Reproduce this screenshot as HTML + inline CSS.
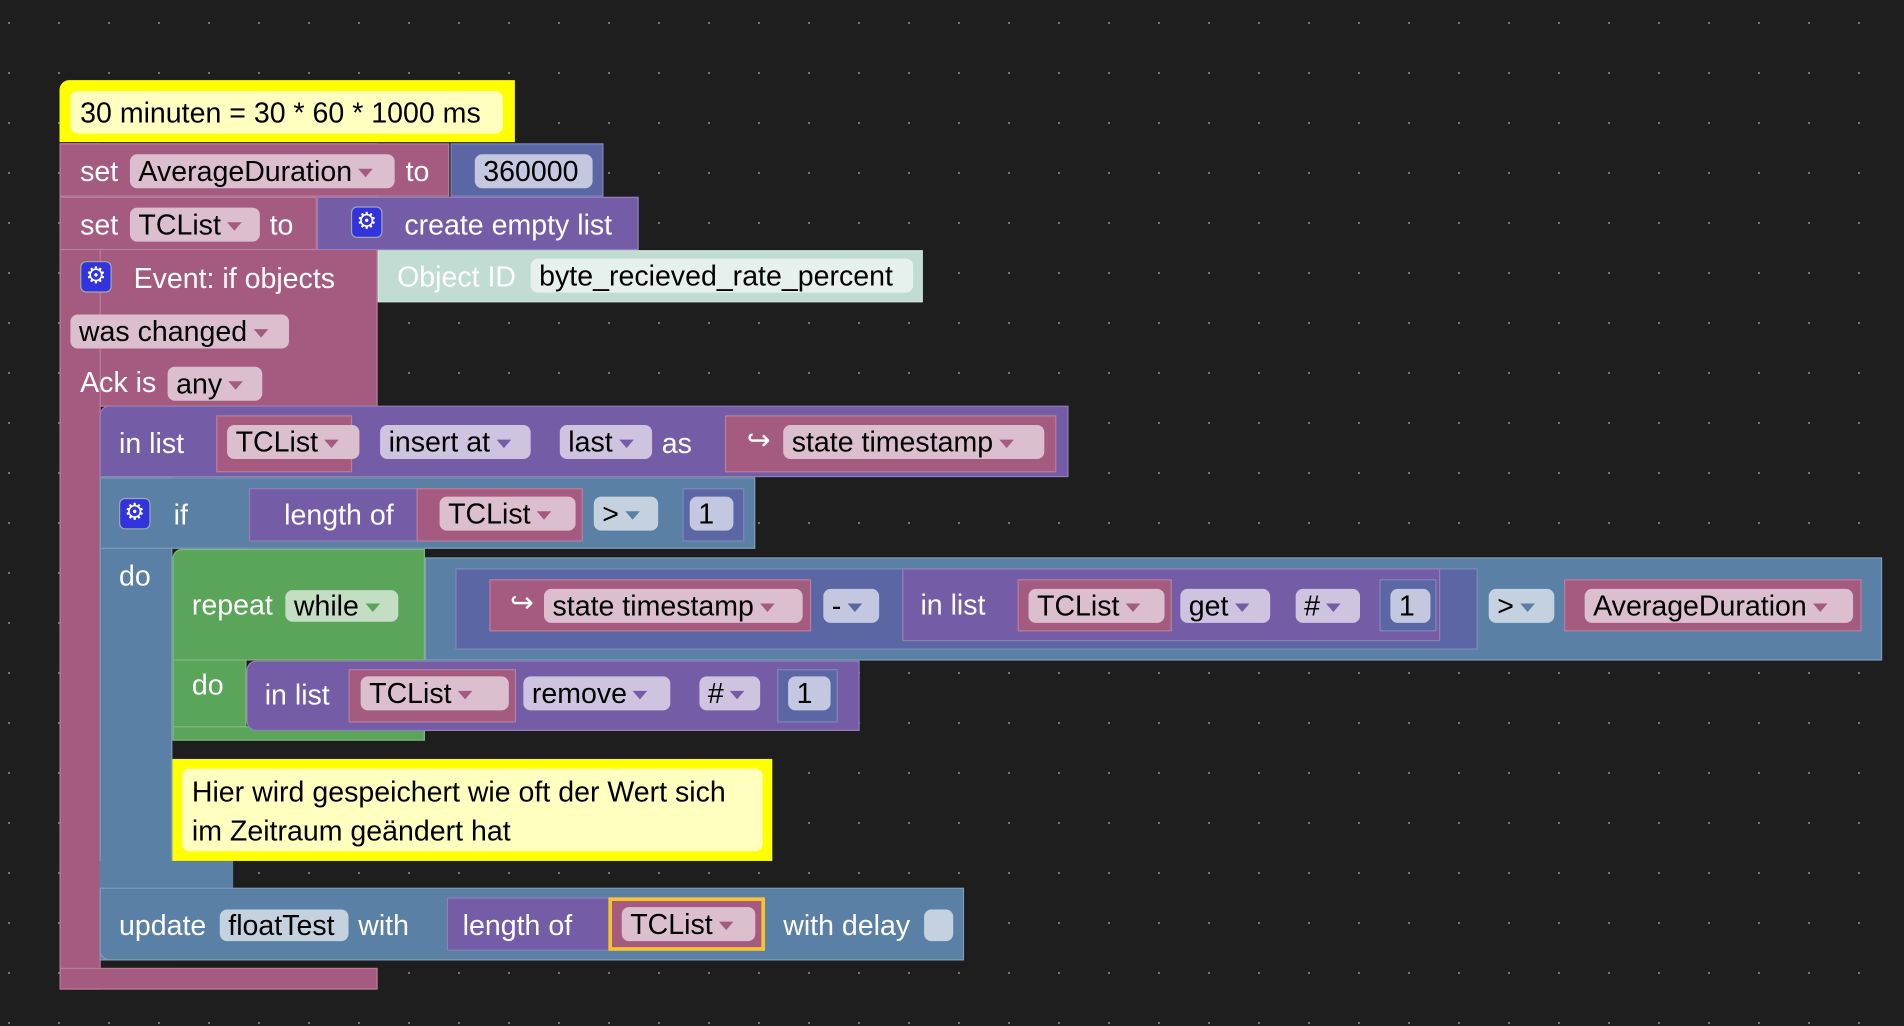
<!DOCTYPE html>
<html><head><meta charset="utf-8"><style>
html,body{margin:0;padding:0;background:#1e1e1e;overflow:hidden}
body{width:1904px;height:1026px;
background-image:radial-gradient(circle,#777 1px,transparent 1.3px);background-size:50px 50px;background-position:-16px -2px}
#s{position:absolute;left:0;top:0;width:1568px;height:845px;transform:scale(1.2143);transform-origin:0 0;font-family:"Liberation Sans",sans-serif;font-size:23.5px}
.b{position:absolute;box-sizing:border-box;border:1px solid rgba(255,255,255,.22)}
.p{background:#a55b80}.u{background:#745ca6}.s{background:#5b80a5}.i{background:#5b67a5}.g{background:#5ba55b}
.f{position:absolute;box-sizing:border-box;border-radius:6px;color:#000;line-height:28px;padding-left:7px;white-space:nowrap;overflow:hidden}
.fp{background:#dcbfcf}.fu{background:#cfc4e0}.fs{background:#c3d2de}.fi{background:#c3c7e0}.fg{background:#c3dec3}
.t{position:absolute;color:#fff;line-height:28px;white-space:nowrap}
.a{display:inline-block;width:0;height:0;border-left:6px solid transparent;border-right:6px solid transparent;border-top:7px solid #a55b80;margin-left:5px;vertical-align:3px}
.au{border-top-color:#745ca6}.as{border-top-color:#5b80a5}.ag{border-top-color:#5ba55b}.ai{border-top-color:#5b67a5}
.gear{position:absolute;width:26px;height:26px;border-radius:5px;background:#3333dd;border:1px solid #9aa;box-sizing:border-box;color:#fff;text-align:center;line-height:24px;font-size:19px}
</style></head><body><div id="s">
<!-- main event block -->
<div class="b p" style="left:49px;top:118px;width:262px;height:217px"></div>
<div class="b p" style="left:49px;top:118px;width:34px;height:697px;border-radius:0 0 0 10px"></div>
<div class="b p" style="left:49px;top:118px;width:321px;height:44px"></div>
<div class="b i" style="left:371px;top:118px;width:126px;height:44px"></div>
<div class="f fp" style="left:107px;top:127px;width:218px">AverageDuration<span class="a"></span></div>
<div class="t" style="left:334px;top:127px">to</div>
<div class="f fi" style="left:391px;top:127px;width:97px">360000</div>
<div class="b p" style="left:49px;top:162px;width:212px;height:44px"></div>
<div class="b u" style="left:261px;top:162px;width:265px;height:44px"></div>
<div class="t" style="left:66px;top:127px">set</div>
<div class="t" style="left:66px;top:171px">set</div>
<div class="f fp" style="left:107px;top:171px;width:107px">TCList<span class="a"></span></div>
<div class="t" style="left:222px;top:171px">to</div>
<div class="gear" style="left:289px;top:170px">⚙</div>
<div class="t" style="left:333px;top:171px">create empty list</div>
<div class="gear" style="left:66px;top:215px">⚙</div>
<div class="t" style="left:110px;top:215px">Event: if objects</div>
<div class="b" style="left:311px;top:206px;width:449px;height:43px;background:#c0dcd3"></div>
<div class="t" style="left:327px;top:214px">Object ID</div>
<div class="f" style="left:437px;top:213px;width:315px;background:#e6f0ec">byte_recieved_rate_percent</div>
<div class="f fp" style="left:58px;top:259px;width:180px">was changed<span class="a"></span></div>
<div class="t" style="left:66px;top:301px">Ack is</div>
<div class="f fp" style="left:138px;top:302px;width:78px">any<span class="a"></span></div>
<!-- bottom arm -->
<div class="b p" style="left:49px;top:797px;width:262px;height:18px"></div>
<!-- comment 1 -->
<div style="position:absolute;left:49px;top:66px;width:375px;height:51px;background:#ff0;border-radius:8px 0 0 0"></div>
<div style="position:absolute;left:58px;top:75px;width:356px;height:35px;background:#ffffc0;border-radius:6px"></div>
<div class="t" style="left:66px;top:79px;color:#000">30 minuten = 30 * 60 * 1000 ms</div>
<!-- in list insert -->
<div class="b u" style="left:82px;top:334px;width:798px;height:59px;border-radius:8px 0 0 0"></div>
<div class="t" style="left:98px;top:351px">in list</div>
<div class="b p" style="left:178px;top:342px;width:112px;height:47px"></div>
<div class="f fp" style="left:187px;top:350px;width:109px">TCList<span class="a"></span></div>
<div class="f fu" style="left:313px;top:350px;width:124px">insert at<span class="a au"></span></div>
<div class="f fu" style="left:461px;top:350px;width:76px">last<span class="a au"></span></div>
<div class="t" style="left:545px;top:351px">as</div>
<div class="b p" style="left:597px;top:342px;width:273px;height:47px"></div>
<div class="t" style="left:615px;top:348px">↪</div>
<div class="f fp" style="left:645px;top:350px;width:215px">state timestamp<span class="a"></span></div>
<!-- if block -->
<div class="b s" style="left:82px;top:393px;width:60px;height:398px"></div>
<div class="b s" style="left:82px;top:393px;width:540px;height:59px"></div>
<div class="gear" style="left:98px;top:410px">⚙</div>
<div class="t" style="left:143px;top:410px">if</div>
<div class="b u" style="left:205px;top:402px;width:140px;height:44px"></div>
<div class="t" style="left:234px;top:410px">length of</div>
<div class="b p" style="left:343px;top:402px;width:137px;height:44px"></div>
<div class="f fp" style="left:362px;top:409px;width:112px">TCList<span class="a"></span></div>
<div class="f fs" style="left:489px;top:409px;width:53px">&gt;<span class="a as"></span></div>
<div class="b i" style="left:562px;top:402px;width:51px;height:44px"></div>
<div class="f fi" style="left:568px;top:409px;width:36px">1</div>
<div class="t" style="left:98px;top:460px">do</div>
<div class="b s" style="left:82px;top:709px;width:110px;height:28px;border:none"></div>
<!-- repeat while -->
<div class="b g" style="left:142px;top:452px;width:61px;height:156px;border-radius:8px 0 0 0"></div>
<div class="b g" style="left:142px;top:452px;width:208px;height:92px;border-radius:8px 0 0 0"></div>
<div class="b g" style="left:142px;top:598px;width:208px;height:12px"></div>
<div class="t" style="left:158px;top:484px">repeat</div>
<div class="f fg" style="left:235px;top:486px;width:93px;line-height:26px">while<span class="a ag"></span></div>
<div class="t" style="left:158px;top:550px">do</div>
<div class="b s" style="left:350px;top:459px;width:1200px;height:85px"></div>
<div class="b i" style="left:375px;top:468px;width:842px;height:67px"></div>
<div class="b p" style="left:403px;top:477px;width:265px;height:43px"></div>
<div class="t" style="left:420px;top:482px">↪</div>
<div class="f fp" style="left:448px;top:485px;width:213px">state timestamp<span class="a"></span></div>
<div class="f fi" style="left:678px;top:485px;width:46px">-<span class="a ai"></span></div>
<div class="b u" style="left:743px;top:468px;width:443px;height:60px"></div>
<div class="t" style="left:758px;top:484px">in list</div>
<div class="b p" style="left:838px;top:477px;width:127px;height:43px"></div>
<div class="f fp" style="left:847px;top:485px;width:112px">TCList<span class="a"></span></div>
<div class="f fu" style="left:972px;top:485px;width:74px">get<span class="a au"></span></div>
<div class="f fu" style="left:1067px;top:485px;width:53px">#<span class="a au"></span></div>
<div class="b i" style="left:1136px;top:477px;width:47px;height:43px"></div>
<div class="f fi" style="left:1145px;top:485px;width:33px">1</div>
<div class="f fs" style="left:1226px;top:485px;width:54px">&gt;<span class="a as"></span></div>
<div class="b p" style="left:1288px;top:477px;width:245px;height:43px"></div>
<div class="f fp" style="left:1305px;top:485px;width:221px">AverageDuration<span class="a"></span></div>
<!-- remove -->
<div class="b u" style="left:203px;top:544px;width:505px;height:58px;border-radius:8px 0 0 8px"></div>
<div class="t" style="left:218px;top:558px">in list</div>
<div class="b p" style="left:287px;top:551px;width:138px;height:44px"></div>
<div class="f fp" style="left:297px;top:557px;width:122px">TCList<span class="a"></span></div>
<div class="f fu" style="left:431px;top:557px;width:121px">remove<span class="a au"></span></div>
<div class="f fu" style="left:576px;top:557px;width:50px">#<span class="a au"></span></div>
<div class="b i" style="left:640px;top:551px;width:50px;height:44px"></div>
<div class="f fi" style="left:649px;top:557px;width:35px">1</div>
<!-- comment 2 -->
<div style="position:absolute;left:142px;top:625px;width:494px;height:84px;background:#ff0"></div>
<div style="position:absolute;left:150px;top:633px;width:478px;height:68px;background:#ffffc0;border-radius:6px"></div>
<div class="t" style="left:158px;top:636px;color:#000;line-height:32px">Hier wird gespeichert wie oft der Wert sich<br>im Zeitraum geändert hat</div>
<!-- update -->
<div class="b s" style="left:82px;top:731px;width:712px;height:60px;border-radius:0 0 0 8px"></div>
<div class="t" style="left:98px;top:748px">update</div>
<div class="f fs" style="left:181px;top:749px;width:106px;line-height:26px">floatTest</div>
<div class="t" style="left:295px;top:748px">with</div>
<div class="b u" style="left:368px;top:739px;width:262px;height:44px"></div>
<div class="t" style="left:381px;top:748px">length of</div>
<div class="b p" style="left:501px;top:739px;width:129px;height:44px;border:3px solid #f7c52b"></div>
<div class="f fp" style="left:512px;top:747px;width:110px">TCList<span class="a"></span></div>
<div class="t" style="left:645px;top:748px">with delay</div>
<div class="f fs" style="left:761px;top:749px;width:24px;height:26px"></div>
</div></body></html>
